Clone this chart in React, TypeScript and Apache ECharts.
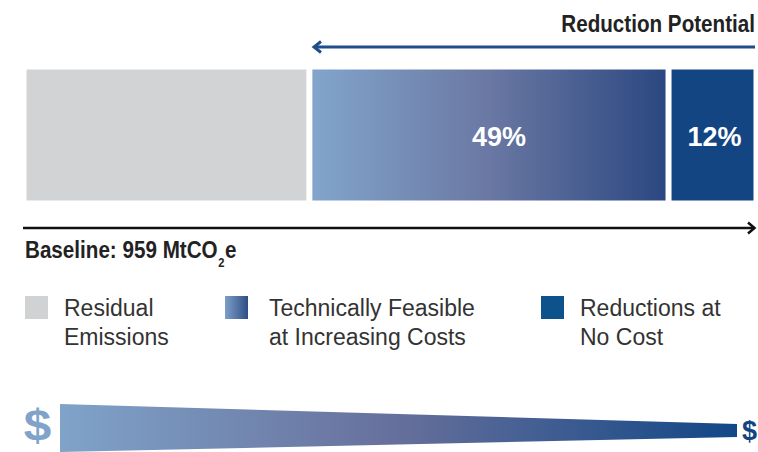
import React, { useEffect, useRef } from "react";
import * as echarts from "echarts";

const categories = ["Baseline"];
const seriesNames = ["Residual Emissions", "Technically Feasible at Increasing Costs", "Reductions at No Cost"];
const legendLabels = ["Residual\nEmissions", "Technically Feasible\nat Increasing Costs", "Reductions at\nNo Cost"];
const residualValues = [39];
const technicalValues = [49];
const noCostValues = [12];
const showLabel = [false, true, true];

const COND = 0.86;

export default function App() {
  const ref = useRef<HTMLDivElement>(null);
  useEffect(() => {
    document.body.style.margin = "0";
    const chart = echarts.init(ref.current!, null, { renderer: "svg" });

    const measure = (text: string, font: string) => {
      const c = document.createElement("canvas").getContext("2d")!;
      c.font = font;
      return c.measureText(text).width;
    };
    const baseFont = 'bold 24px "Liberation Sans"';
    const w1 = measure("Baseline: 959 MtCO", baseFont) * COND;
    const w2 = measure("2", 'bold 13px "Liberation Sans"') * COND;

    const techGrad = new echarts.graphic.LinearGradient(0, 0, 1, 0, [
      { offset: 0, color: "#82a5cb" },
      { offset: 0.5, color: "#6a78a3" },
      { offset: 1, color: "#2b4781" },
    ]);
    const legendTechGrad = new echarts.graphic.LinearGradient(0, 0, 1, 0, [
      { offset: 0, color: "#80a3c9" },
      { offset: 1, color: "#2c4a82" },
    ]);
    const colors = ["#d2d3d5", techGrad, "#134582"];
    const legendColors = ["#d1d2d4", legendTechGrad, "#0e528c"];
    const values = [residualValues, technicalValues, noCostValues];
    const labelOffsets = [[0, 0], [10, 2], [2, 2]];

    const legendLeft = [23, 223, 539];
    const legendTextPad = [10, 15, 10];

    chart.setOption({
      animation: false,
      grid: { left: 23.5, right: 1.5, top: 66.5, height: 137, containLabel: false },
      xAxis: { type: "value", min: 0, max: 100, show: false },
      yAxis: { type: "category", data: categories, show: false },
      legend: seriesNames.map((n, i) => ({
        left: legendLeft[i],
        top: 264,
        padding: 0,
        orient: "horizontal",
        itemWidth: 25,
        itemHeight: 25,
        selectedMode: false,
        data: [{ name: n, icon: "rect", itemStyle: { color: legendColors[i] } }],
        formatter: () => " \n" + legendLabels[i],
        textStyle: {
          fontFamily: "Liberation Sans",
          fontSize: 23,
          color: "#333333",
          lineHeight: 29,
          padding: [0, 0, 0, legendTextPad[i]],
        },
      })),
      series: seriesNames.map((n, i) => ({
        name: n,
        type: "bar",
        stack: "total",
        barWidth: 137,
        data: values[i],
        itemStyle: { color: colors[i], borderColor: "#ffffff", borderWidth: 3 },
        label: {
          show: showLabel[i],
          position: "inside",
          formatter: "{c}%",
          color: "#ffffff",
          fontFamily: "Liberation Sans",
          fontWeight: "bold",
          fontSize: 27,
          offset: labelOffsets[i],
        },
      })),
      graphic: [
        {
          type: "text",
          x: 755,
          y: 23.5,
          scaleX: COND,
          style: {
            text: "Reduction Potential",
            x: 0,
            y: 0,
            textAlign: "right",
            textVerticalAlign: "middle",
            font: 'bold 24px "Liberation Sans"',
            fill: "#222222",
          },
        },
        {
          type: "line",
          shape: { x1: 314, y1: 47, x2: 755, y2: 47 },
          style: { stroke: "#1f4e8b", lineWidth: 3 },
        },
        {
          type: "polyline",
          shape: { points: [[321, 41.5], [314, 47], [321, 52.5]] },
          style: { stroke: "#1f4e8b", lineWidth: 3, fill: null },
        },
        {
          type: "line",
          shape: { x1: 23, y1: 228, x2: 754, y2: 228 },
          style: { stroke: "#111111", lineWidth: 2.5 },
        },
        {
          type: "polyline",
          shape: { points: [[748, 222.5], [754.5, 228], [748, 233.5]] },
          style: { stroke: "#111111", lineWidth: 2.5, fill: null },
        },
        {
          type: "text",
          x: 25,
          y: 249.5,
          scaleX: COND,
          style: {
            text: "Baseline: 959 MtCO",
            x: 0,
            y: 0,
            textAlign: "left",
            textVerticalAlign: "middle",
            font: baseFont,
            fill: "#222222",
          },
        },
        {
          type: "text",
          x: 25 + w1 + 0.5,
          y: 262.5,
          scaleX: COND,
          style: {
            text: "2",
            x: 0,
            y: 0,
            textAlign: "left",
            textVerticalAlign: "middle",
            font: 'bold 13px "Liberation Sans"',
            fill: "#222222",
          },
        },
        {
          type: "text",
          x: 25 + w1 + w2 + 1,
          y: 249.5,
          scaleX: COND,
          style: {
            text: "e",
            x: 0,
            y: 0,
            textAlign: "left",
            textVerticalAlign: "middle",
            font: baseFont,
            fill: "#222222",
          },
        },
        {
          type: "polygon",
          shape: { points: [[60, 404], [737, 424], [737, 437], [60, 452]] },
          style: {
            fill: new echarts.graphic.LinearGradient(0, 0, 1, 0, [
              { offset: 0, color: "#80a3c9" },
              { offset: 0.5, color: "#666f9b" },
              { offset: 1, color: "#124786" },
            ]),
          },
        },
        {
          type: "text",
          x: 37.5,
          y: 425.5,
          scaleX: 1.1,
          style: {
            text: "$",
            x: 0,
            y: 0,
            textAlign: "center",
            textVerticalAlign: "middle",
            font: 'bold 45px "Liberation Sans"',
            fill: "#80a3c9",
          },
        },
        {
          type: "text",
          x: 749.5,
          y: 430.5,
          style: {
            text: "$",
            x: 0,
            y: 0,
            textAlign: "center",
            textVerticalAlign: "middle",
            font: 'bold 27px "Liberation Sans"',
            fill: "#134582",
          },
        },
      ],
    });
    return () => chart.dispose();
  }, []);
  return <div ref={ref} style={{ position: "absolute", left: 0, top: 0, width: 758, height: 452 }} />;
}
